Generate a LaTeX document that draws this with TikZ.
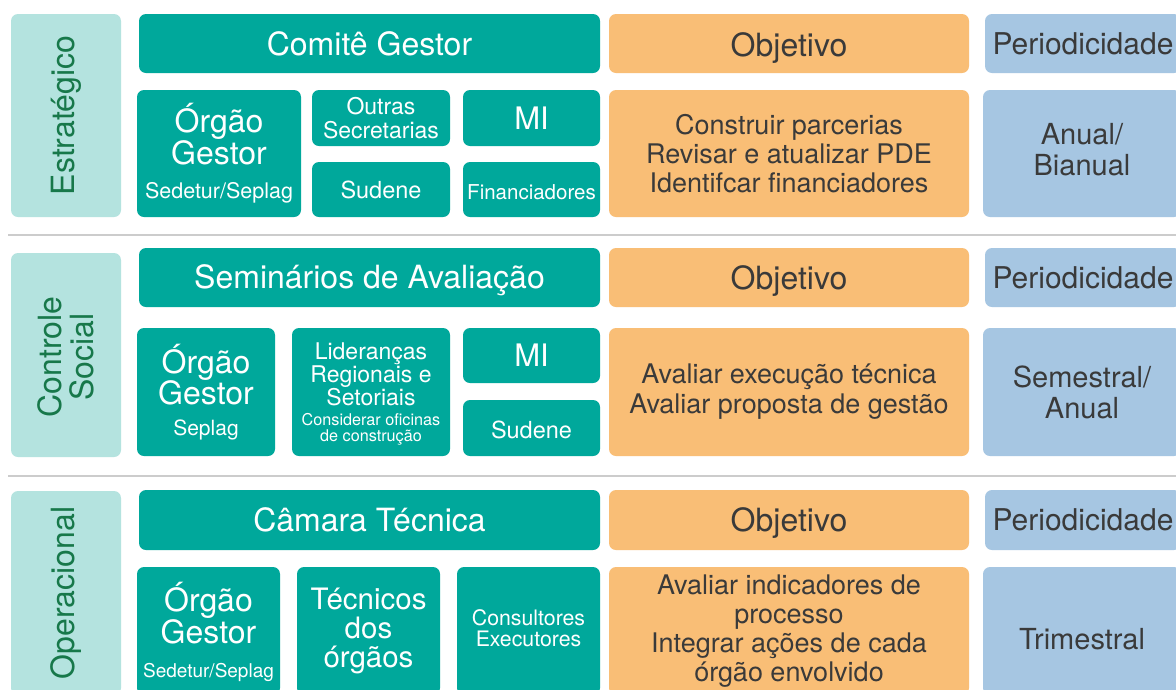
\documentclass[tikz,border=0pt]{standalone}
\usepackage{fontspec}
\setmainfont{TeX Gyre Heros}
\definecolor{tealA}{HTML}{00A89B}
\definecolor{ltealA}{HTML}{B4E3DF}
\definecolor{gtextA}{HTML}{17784A}
\definecolor{orngA}{HTML}{F9BE76}
\definecolor{bluA}{HTML}{A6C6E2}
\definecolor{dtextA}{HTML}{3A3A3A}
\definecolor{sepA}{HTML}{CCCCCC}
\tikzset{
  base/.style={inner sep=0pt, rounded corners=7pt},
  tbox/.style={base, fill=tealA},
  lbox/.style={base, fill=ltealA},
  obox/.style={base, fill=orngA},
  bbox/.style={base, fill=bluA},
  txt/.style={inner sep=0pt, align=center},
  wt/.style={txt, text=white},
  dt/.style={txt, text=dtextA},
  fs/.style 2 args={font=\fontsize{#1}{#2}\selectfont},
  lab/.style={txt, rotate=90, text=gtextA, fs={32}{32}},
  sepline/.style={draw=sepA, line width=2pt},
  dn/.style={yshift=-#1pt},
}
% \bx{box style}{text style}{x1}{y1}{x2}{y2}{name}{text}
\newcommand\bx[8]{%
  \node[#1, minimum width={#5-#3}, minimum height={#6-#4}] (#7) at ({(#3+#5)/2},{(#4+#6)/2}) {};
  \node[#2] (#7t) at (#7.center) {#8};}
\begin{document}
\begin{tikzpicture}[x=1pt,y=-1pt]
\useasboundingbox (0,0) rectangle (1176,689);
\clip (0,0) rectangle (1176,689);
\fill[white] (0,0) rectangle (1176,689);

% separators
\coordinate (s1a) at (8,235); \coordinate (s1b) at (1176,235);
\coordinate (s2a) at (8,476); \coordinate (s2b) at (1176,476);
\draw[sepline] (s1a) -- (s1b);
\draw[sepline] (s2a) -- (s2b);

% ===== Row 1 =====
\bx{lbox}{lab}{11}{14}{121}{217}{L1}{Estratégico}
\bx{tbox}{wt,fs={32}{32}}{139}{14}{600}{73}{H1}{Comitê Gestor}
\bx{obox}{dt,fs={32}{32},text depth=0pt,dn=1.5}{609}{14}{969}{73}{O1}{Objetivo}
\bx{bbox}{dt,fs={30}{32}}{985}{14}{1181}{73}{P1}{Periodicidade}
\bx{tbox}{wt,fs={32}{32}}{137}{90}{301}{217}{G1}{Órgão\\Gestor\\[2pt]{\fontsize{21.5}{21.5}\selectfont Sedetur/Seplag}}
\bx{tbox}{wt,fs={23}{24}}{312}{90}{450}{146}{OS1}{Outras\\Secretarias}
\bx{tbox}{wt,fs={31}{32}}{463}{90}{600}{146}{MI1}{MI}
\bx{tbox}{wt,fs={23.5}{24}}{312}{162}{450}{217}{SU1}{Sudene}
\bx{tbox}{wt,fs={20.5}{22},dn=3}{463}{162}{600}{217}{FI1}{Financiadores}
\bx{obox}{dt,fs={27}{29}}{609}{90}{969}{217}{OT1}{Construir parcerias\\Revisar e atualizar PDE\\Identifcar financiadores}
\bx{bbox}{dt,fs={29}{31},dn=-4}{983}{90}{1181}{217}{PT1}{Anual/\\Bianual}

% ===== Row 2 =====
\bx{lbox}{lab,xshift=-2pt}{11}{253}{121}{457}{L2}{Controle\\Social}
\bx{tbox}{wt,fs={32}{32},dn=3}{139}{248}{600}{307}{H2}{Seminários de Avaliação}
\bx{obox}{dt,fs={32}{32},text depth=0pt}{609}{248}{969}{307}{O2}{Objetivo}
\bx{bbox}{dt,fs={30}{32}}{985}{248}{1181}{307}{P2}{Periodicidade}
\bx{tbox}{wt,fs={32}{31}}{137}{328}{275}{456}{G2}{Órgão\\Gestor\\[0pt]{\fontsize{21}{21}\selectfont Seplag}}
\bx{tbox}{wt,fs={23}{23},dn=2}{292}{328}{450}{456}{LR2}{Lideranças\\Regionais e\\Setoriais\\[-3pt]{\fontsize{16.2}{16}\selectfont Considerar oficinas}\\[-7pt]{\fontsize{16.2}{16}\selectfont de construção}}
\bx{tbox}{wt,fs={31}{32}}{463}{328}{600}{383}{MI2}{MI}
\bx{tbox}{wt,fs={23.5}{24},dn=1.5}{463}{400}{600}{456}{SU2}{Sudene}
\bx{obox}{dt,fs={27}{30}}{609}{328}{969}{456}{OT2}{Avaliar execução técnica\\Avaliar proposta de gestão}
\bx{bbox}{dt,fs={29}{31}}{983}{328}{1181}{456}{PT2}{Semestral/\\Anual}

% ===== Row 3 =====
\bx{lbox}{lab}{11}{491}{121}{695}{L3}{Operacional}
\bx{tbox}{wt,fs={32}{32}}{139}{490}{600}{550}{H3}{Câmara Técnica}
\bx{obox}{dt,fs={32}{32},text depth=0pt}{609}{490}{969}{550}{O3}{Objetivo}
\bx{bbox}{dt,fs={30}{32}}{985}{490}{1181}{550}{P3}{Periodicidade}
\bx{tbox}{wt,fs={32}{32},dn=1}{137}{567}{280}{695}{G3}{Órgão\\Gestor\\[2pt]{\fontsize{19}{19}\selectfont Sedetur/Seplag}}
\bx{tbox}{wt,fs={29.5}{29}}{297}{567}{440}{695}{TE3}{Técnicos\\dos\\órgãos}
\bx{tbox}{wt,fs={21.3}{21},dn=-3}{457}{567}{600}{695}{CO3}{Consultores\\Executores}
\bx{obox}{dt,fs={27}{29}}{609}{567}{969}{695}{OT3}{Avaliar indicadores de\\processo\\Integrar ações de cada\\órgão envolvido}
\bx{bbox}{dt,fs={29}{31},dn=8}{983}{567}{1181}{695}{PT3}{Trimestral}
\end{tikzpicture}
\end{document}
